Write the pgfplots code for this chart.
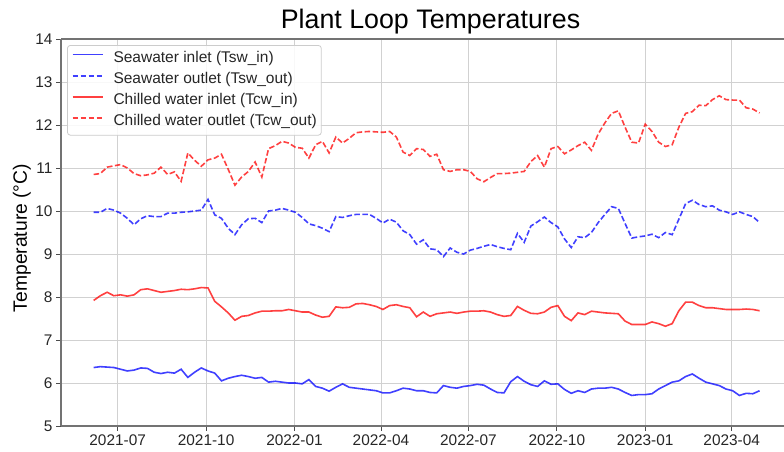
\documentclass[border=0pt]{standalone}
\usepackage{fontspec}
\setmainfont{Liberation Sans}
\usepackage{pgfplots}
\pgfplotsset{compat=1.18}
\usepackage{pgfplotstable}

% day = days since 2021-07-01 (weekly samples)
\pgfplotstableread{
day tswin tswout tcwin tcwout
-25 6.36 9.97 7.92 10.85
-18 6.38 9.97 8.03 10.87
-11 6.37 10.06 8.11 11.02
-4 6.36 10.02 8.03 11.05
3 6.32 9.95 8.05 11.08
10 6.28 9.83 8.02 11.00
17 6.30 9.68 8.05 10.87
24 6.35 9.82 8.17 10.82
31 6.34 9.89 8.19 10.84
38 6.25 9.87 8.15 10.88
45 6.22 9.87 8.11 11.02
52 6.25 9.95 8.13 10.85
59 6.23 9.95 8.15 10.91
66 6.32 9.97 8.18 10.69
73 6.13 9.98 8.17 11.35
80 6.25 10.00 8.19 11.18
87 6.35 10.02 8.22 11.04
94 6.28 10.27 8.21 11.19
101 6.23 9.91 7.90 11.23
108 6.05 9.83 7.77 11.32
115 6.11 9.60 7.63 10.97
122 6.15 9.45 7.46 10.60
129 6.18 9.68 7.55 10.79
136 6.15 9.82 7.57 10.92
143 6.11 9.83 7.63 11.14
150 6.13 9.73 7.67 10.79
157 6.02 10.00 7.67 11.45
164 6.04 10.02 7.68 11.52
171 6.02 10.06 7.68 11.62
178 6.00 10.02 7.71 11.58
185 6.00 9.97 7.68 11.48
192 5.98 9.85 7.65 11.46
199 6.08 9.70 7.65 11.23
206 5.92 9.66 7.58 11.54
213 5.88 9.60 7.53 11.62
220 5.81 9.52 7.55 11.35
227 5.90 9.87 7.77 11.72
234 5.98 9.85 7.75 11.58
241 5.90 9.89 7.76 11.69
248 5.88 9.92 7.84 11.82
255 5.86 9.92 7.85 11.84
262 5.84 9.92 7.82 11.85
269 5.82 9.83 7.78 11.84
276 5.77 9.72 7.71 11.83
283 5.77 9.81 7.80 11.85
290 5.82 9.74 7.82 11.72
297 5.88 9.54 7.78 11.37
304 5.86 9.45 7.75 11.29
311 5.82 9.23 7.54 11.45
318 5.82 9.33 7.65 11.43
325 5.78 9.12 7.55 11.27
332 5.77 9.10 7.61 11.32
339 5.94 8.94 7.63 10.96
346 5.90 9.14 7.65 10.92
353 5.88 9.04 7.62 10.96
360 5.92 9.00 7.65 10.96
367 5.94 9.09 7.67 10.92
374 5.97 9.13 7.67 10.75
381 5.95 9.18 7.68 10.68
388 5.86 9.22 7.65 10.78
395 5.78 9.17 7.59 10.87
402 5.77 9.13 7.55 10.87
409 6.03 9.10 7.57 10.88
416 6.15 9.48 7.78 10.90
423 6.04 9.27 7.69 10.92
430 5.96 9.65 7.62 11.15
437 5.92 9.75 7.61 11.29
444 6.05 9.86 7.65 11.02
451 5.97 9.73 7.76 11.45
458 5.98 9.63 7.80 11.50
465 5.85 9.35 7.55 11.33
472 5.76 9.15 7.45 11.42
479 5.82 9.40 7.63 11.52
486 5.78 9.38 7.59 11.60
493 5.86 9.50 7.67 11.41
500 5.88 9.73 7.65 11.79
507 5.88 9.92 7.63 12.05
514 5.90 10.10 7.62 12.27
521 5.86 10.06 7.61 12.33
528 5.78 9.71 7.44 11.95
535 5.71 9.37 7.36 11.60
542 5.73 9.40 7.36 11.58
549 5.73 9.42 7.36 12.02
556 5.75 9.46 7.42 11.85
563 5.86 9.38 7.38 11.60
570 5.94 9.50 7.32 11.50
577 6.02 9.45 7.38 11.54
584 6.05 9.81 7.68 11.95
591 6.15 10.17 7.88 12.27
598 6.21 10.25 7.88 12.31
605 6.11 10.15 7.80 12.46
612 6.02 10.10 7.75 12.45
619 5.98 10.12 7.75 12.59
626 5.94 10.02 7.73 12.68
633 5.86 9.98 7.71 12.59
640 5.82 9.92 7.71 12.58
647 5.71 9.98 7.71 12.58
654 5.76 9.92 7.72 12.40
661 5.75 9.87 7.71 12.37
668 5.82 9.73 7.68 12.28
}\loopdata

\begin{document}
\begin{tikzpicture}
\useasboundingbox (0,0) rectangle (784pt,452pt);
\begin{axis}[
  at={(61pt,26pt)}, anchor=south west,
  scale only axis, width=723pt, height=387pt,
  xmin=-59, xmax=693.4, ymin=5, ymax=14,
  xtick={0,92,184,274,365,457,549,639},
  xticklabels={2021-07,2021-10,2022-01,2022-04,2022-07,2022-10,2023-01,2023-04},
  ytick={5,6,...,14},
  axis x line*=box, axis y line*=left,
  xtick pos=bottom, ytick pos=left,
  tick align=outside, major tick length=5pt,
  tick style={black!70, line width=0.9pt},
  axis line style={black!55, line width=1.1pt},
  grid=major,
  major grid style={black!18, line width=0.9pt},
  /pgf/number format/assume math mode=true,
  tick label style={font=\fontsize{15.4}{18}\selectfont, text=black!85},
  legend cell align=left,
  legend image code/.code={\draw[#1] (0pt,4pt) -- (30pt,4pt);},
  legend style={at={(0,1)}, anchor=north west, xshift=6pt, yshift=-6pt,
    font=\fontsize{15.5}{18}\selectfont, text=black!85,
    draw=black!20, line width=0.8pt, rounded corners=3pt,
    fill=white, fill opacity=0.85, text opacity=1,
    inner xsep=4.5pt, inner ysep=5pt, row sep=4.6pt,
    nodes={inner sep=0pt, text height=12pt, text depth=4.5pt},
    /tikz/every odd column/.append style={column sep=10pt}},
]
\addplot[blue, opacity=0.75, line width=1.6pt] table[x=day, y=tswin] {\loopdata};
\addlegendentry{Seawater inlet (Tsw\_in)}
\addplot[blue, opacity=0.75, line width=1.6pt, dash pattern=on 5.5pt off 2.5pt] table[x=day, y=tswout] {\loopdata};
\addlegendentry{Seawater outlet (Tsw\_out)}
\addplot[red, opacity=0.75, line width=1.6pt] table[x=day, y=tcwin] {\loopdata};
\addlegendentry{Chilled water inlet (Tcw\_in)}
\addplot[red, opacity=0.75, line width=1.6pt, dash pattern=on 5.5pt off 2.5pt] table[x=day, y=tcwout] {\loopdata};
\addlegendentry{Chilled water outlet (Tcw\_out)}
\end{axis}
\node[anchor=base, font=\fontsize{26.8}{32}\selectfont] at (430.5pt,423pt) {Plant Loop Temperatures};
\node[anchor=base, rotate=90, font=\fontsize{19.3}{23}\selectfont] at (26.8pt,214pt) {Temperature (°C)};
\end{tikzpicture}
\end{document}
